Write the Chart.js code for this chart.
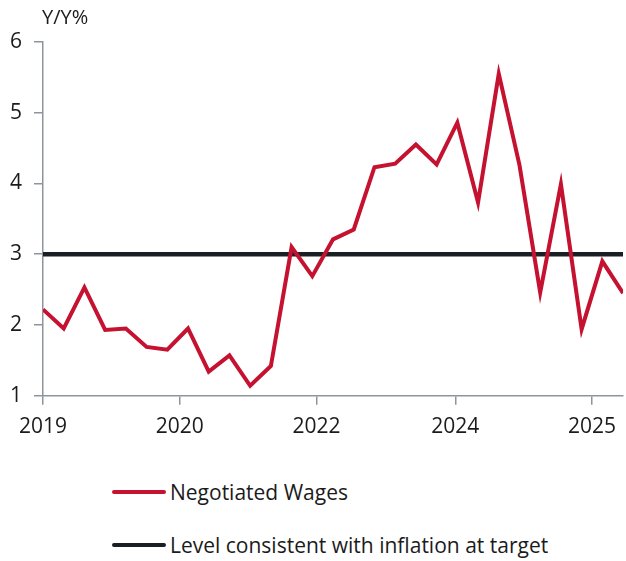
<!DOCTYPE html>
<html>
<head>
<meta charset="utf-8">
<script src="https://cdn.jsdelivr.net/npm/chart.js@4"></script>
<style>
  body { margin: 0; background: #fff; }
  #wrap { position: relative; width: 626px; height: 561px; font-family: "Open Sans", sans-serif; color: #1b1b1b; }
  #chartBox { position: absolute; left: 0; top: 0; width: 626px; height: 440px; }
  .unit { position: absolute; left: 42px; top: 3px; font-size: 20px; }
  .legend-item { position: absolute; left: 112px; font-size: 21px; display: flex; align-items: center; }
  .legend-item span.swatch { display: inline-block; width: 54px; height: 4px; border-radius: 2px; margin-right: 4px; }
</style>
</head>
<body>
<div id="wrap">
  <div id="chartBox"><canvas id="myChart"></canvas></div>
  <div class="unit">Y/Y%</div>
  <div class="legend-item" style="top:478px"><span class="swatch" style="background:#c41230"></span>Negotiated Wages</div>
  <div class="legend-item" style="top:531px"><span class="swatch" style="background:#1a1f24"></span>Level consistent with inflation at target</div>
</div>
<script>
// quarterly y/y negotiated wage growth
const wages = [2.22, 1.95, 2.53, 1.93, 1.95, 1.69, 1.65, 1.95, 1.34, 1.57,
  1.14, 1.42, 3.10, 2.69, 3.21, 3.35, 4.23, 4.28, 4.55, 4.27,
  4.86, 3.73, 5.55, 4.26, 2.46, 3.99, 1.94, 2.90, 2.45];
const target = [3, 3, 3, 3, 3, 3, 3, 3, 3, 3, 3, 3, 3, 3, 3, 3, 3, 3, 3, 3,
  3, 3, 3, 3, 3, 3, 3, 3, 3];
const tickLabels = ["2019", "2020", "2022", "2024", "2025"];
const tickAt = [0, 6.6, 13.2, 19.9, 26.5];

const axisGrey = "#8d959c";

const ctx = document.getElementById("myChart").getContext("2d");
const chart = new Chart(ctx, {
  type: "line",
  data: {
    datasets: [
      {
        label: "Negotiated Wages",
        data: wages.map((v, i) => ({ x: i, y: v })),
        borderColor: "#c41230",
        borderWidth: 4,
        pointRadius: 0,
        tension: 0,
        order: 1
      },
      {
        label: "Level consistent with inflation at target",
        data: target.map((v, i) => ({ x: i, y: v })),
        borderColor: "#1a1f24",
        borderWidth: 4.5,
        pointRadius: 0,
        order: 2
      }
    ]
  },
  options: {
    responsive: true,
    maintainAspectRatio: false,
    animation: false,
    layout: { padding: { top: 42, right: 0, left: 0, bottom: 0 } },
    plugins: { legend: { display: false }, tooltip: { enabled: false } },
    scales: {
      x: {
        type: "linear",
        min: 0,
        max: wages.length - 1,
        afterBuildTicks: scale => {
          scale.ticks = tickAt.map(v => ({ value: v }));
        },
        afterFit: scale => { scale.height = 44.3; },
        ticks: {
          autoSkip: false,
          maxRotation: 0,
          padding: 10,
          color: "#1b1b1b",
          font: { family: "Open Sans", size: 21 },
          callback: (v, i) => tickLabels[i]
        },
        grid: { drawOnChartArea: false, color: axisGrey, tickLength: 9, lineWidth: 1.5 },
        border: { color: axisGrey, width: 1.5 }
      },
      y: {
        min: 1,
        max: 6,
        afterFit: scale => { scale.width = 43; },
        ticks: {
          stepSize: 1,
          padding: 12,
          color: "#1b1b1b",
          font: { family: "Open Sans", size: 21 }
        },
        grid: { drawOnChartArea: false, color: axisGrey, tickLength: 9, lineWidth: 1.5 },
        border: { color: axisGrey, width: 1.5 }
      }
    }
  }
});
</script>
</body>
</html>
